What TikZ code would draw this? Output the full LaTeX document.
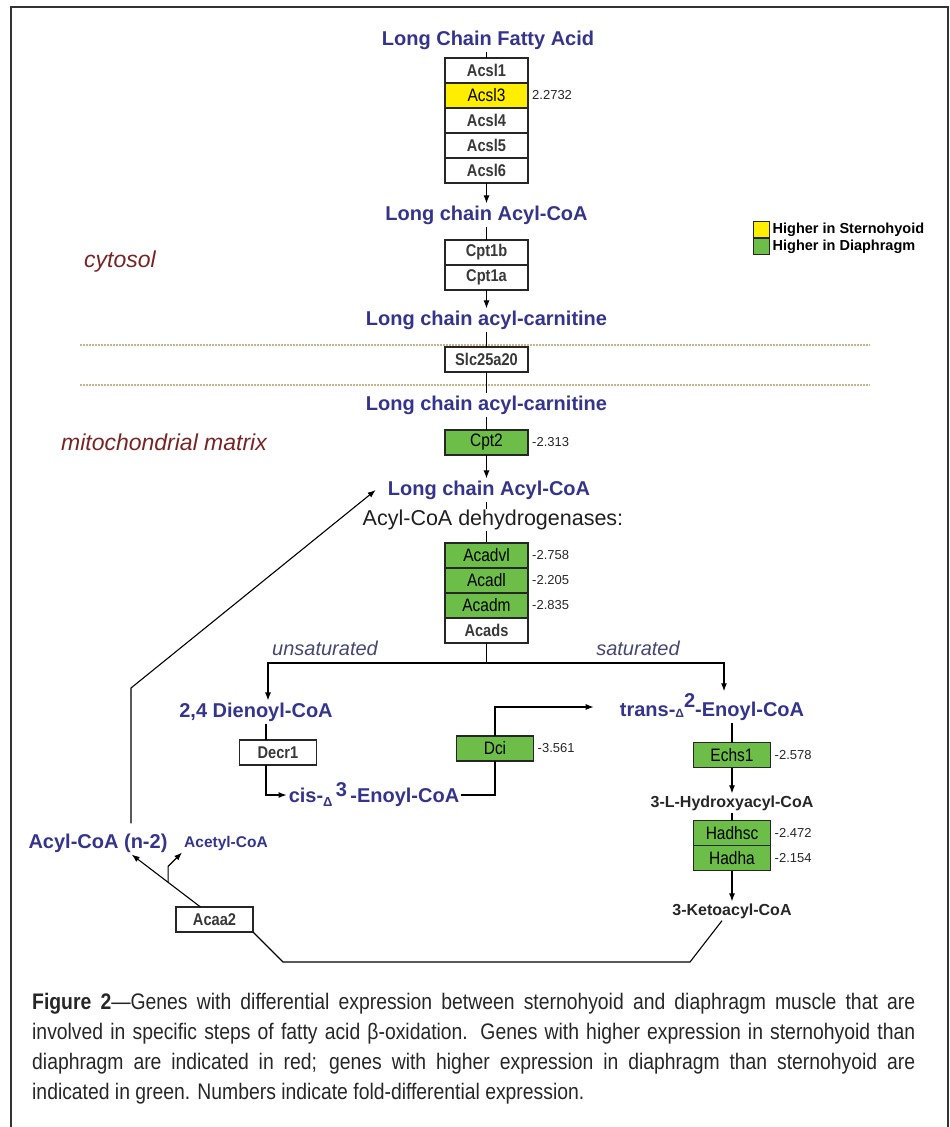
\documentclass[tikz,border=0pt]{standalone}
\usepackage{fontspec}
\setmainfont{Liberation Sans}
\newfontfamily\narrowsf[FakeStretch=0.86]{Liberation Sans}
\usetikzlibrary{arrows.meta, positioning, backgrounds}
\definecolor{metblue}{RGB}{52,52,140}
\definecolor{upyellow}{RGB}{255,238,0}
\definecolor{downgreen}{RGB}{108,190,72}
\definecolor{regionred}{RGB}{120,36,36}
\definecolor{splitgray}{RGB}{70,70,112}
\definecolor{membranetan}{RGB}{196,180,140}
\newcommand{\fsz}[1]{\fontsize{#1}{#1}\selectfont}
\tikzset{
  gene/.style={rectangle, draw=black!85, line width=1.1pt, fill=white,
               minimum width=83pt, minimum height=25pt, inner sep=0pt,
               outer sep=0pt, font=\narrowsf\bfseries\fsz{17}, text=black!78},
  upgene/.style={gene, fill=upyellow, font=\narrowsf\fsz{18}, text=black},
  downgene/.style={gene, fill=downgreen, font=\narrowsf\fsz{18}, text=black},
  metab/.style={font=\bfseries\fsz{20}, text=metblue, inner sep=2pt},
  inter/.style={font=\bfseries\fsz{16}, text=black!85, inner sep=2pt},
  fold/.style={font=\fsz{13}, inner sep=0pt, text=black!85},
  splitlbl/.style={font=\itshape\fsz{20}, text=splitgray},
  region/.style={font=\itshape\fsz{23}, text=regionred},
  flow/.style={-{Latex[length=8pt,width=6pt]}, line width=1.1pt},
  link/.style={line width=1.1pt},
  membrane/.style={draw=membranetan, line width=1.2pt, dash pattern=on 1.5pt off 1.5pt},
  legsq/.style={rectangle, draw=black!85, line width=1pt, minimum size=16pt, inner sep=0pt},
  legtxt/.style={font=\bfseries\fsz{14.5}, inner sep=0pt},
}

\begin{document}
\begin{tikzpicture}[x=1pt, y=-1pt]
  \useasboundingbox (0,0) rectangle (950,1127);
  % frame
  \draw[black!80, line width=2pt] (11,1127) -- (11,7) -- (948,7) -- (948,1127);

  % compartments
  \node[region] (cytosol) at (120,262) {cytosol};
  \node[region] (mito) at (164,442) {mitochondrial matrix};
  \draw[membrane] (80,345) -- (870,345);
  \draw[membrane] (80,385) -- (870,385);

  % legend
  \node[legsq, fill=upyellow] (legup) at (761,229.5) {};
  \node[legsq, fill=downgreen, below=0pt of legup] (legdown) {};
  \node[legtxt, right=3pt of legup] {Higher in Sternohyoid};
  \node[legtxt, right=3pt of legdown] {Higher in Diaphragm};

  % activation
  \node[metab] (lcfa) at (488,40) {Long Chain Fatty Acid};
  \node[gene] (acsl1) at (486.5,70.5) {Acsl1};
  \node[upgene, below=0pt of acsl1] (acsl3) {Acsl3};
  \node[gene, below=0pt of acsl3] (acsl4) {Acsl4};
  \node[gene, below=0pt of acsl4] (acsl5) {Acsl5};
  \node[gene, below=0pt of acsl5] (acsl6) {Acsl6};
  \node[fold, right=4pt of acsl3] {2.2732};
  \node[metab] (lcacoa1) at (486.5,215) {Long chain Acyl-CoA};
  \draw[link] (lcfa.south -| acsl1.north) -- (acsl1.north);
  \draw[flow] (acsl6) -- (lcacoa1);

  % carnitine shuttle
  \node[gene] (cpt1b) at (486.5,252.5) {Cpt1b};
  \node[gene, below=0pt of cpt1b] (cpt1a) {Cpt1a};
  \node[metab] (lccar1) at (486.5,320) {Long chain acyl-carnitine};
  \node[gene] (slc) at (486.5,359.5) {Slc25a20};
  \node[metab] (lccar2) at (486.5,405) {Long chain acyl-carnitine};
  \node[downgene] (cpt2) at (486.5,442.5) {Cpt2};
  \node[fold, right=4pt of cpt2] {-2.313};
  \node[metab] (lcacoa2) at (489,490) {Long chain Acyl-CoA};
  \draw[link] (lcacoa1) -- (cpt1b);
  \draw[flow] (cpt1a) -- (lccar1);
  \draw[link] (lccar1) -- (slc);
  \draw[link] (slc) -- (lccar2);
  \draw[link] (lccar2) -- (cpt2);
  \draw[flow] (cpt2.south) -- (cpt2.south |- lcacoa2.north);

  % dehydrogenases
  \node[font=\fsz{21.5}, text=black!88, fill=white, inner sep=1pt] (acyldh) at (493,520) {Acyl-CoA dehydrogenases:};
  \node[downgene] (acadvl) at (486.5,555.5) {Acadvl};
  \node[downgene, below=0pt of acadvl] (acadl) {Acadl};
  \node[downgene, below=0pt of acadl] (acadm) {Acadm};
  \node[gene, below=0pt of acadm] (acads) {Acads};
  \node[fold, right=4pt of acadvl] {-2.758};
  \node[fold, right=4pt of acadl] {-2.205};
  \node[fold, right=4pt of acadm] {-2.835};
  \begin{scope}[on background layer]
    \draw[link] (lcacoa2.south -| acadvl.north) -- (acadvl.north);
  \end{scope}

  % unsaturated / saturated
  \draw[link] (acads.south) -- ++(0,20) coordinate (split);
  \node[splitlbl] (unsat) at (325,648) {unsaturated};
  \node[splitlbl] (sat) at (638,648) {saturated};
  \node[metab] (dienoyl) at (256,712) {2,4 Dienoyl-CoA};
  \node[gene, minimum width=77pt] (decr1) at (278,752.5) {Decr1};
  \node[metab] (cis) at (374,795) {cis-\raisebox{-4pt}{\fsz{13}Δ}\,\raisebox{6pt}{3}\,-Enoyl-CoA};
  \node[downgene, minimum width=77pt] (dci) at (495,748.5) {Dci};
  \node[fold, right=4pt of dci] {-3.561};
  \node[metab] (trans) at (712,707) {trans-\raisebox{-1pt}{\fsz{12}Δ}\raisebox{9pt}{2}-Enoyl-CoA};
  \draw[flow] (split) -| ([xshift=12pt]dienoyl.north);
  \draw[flow] (split) -| ([xshift=12pt]trans.north);
  \draw[link] ([xshift=-12pt]decr1.north |- dienoyl.south) -- ([xshift=-12pt]decr1.north);
  \draw[flow] ([xshift=-12pt]decr1.south) |- (cis.west);
  \draw[link] (cis.east) -| (dci.south);
  \draw[flow] (dci.north) |- ([xshift=-24pt]trans.west);

  % hydration and oxidation
  \node[downgene, minimum width=77pt] (echs1) at (732,755) {Echs1};
  \node[fold, right=4pt of echs1] {-2.578};
  \node[inter] (hydroxy) at (732,803) {3-L-Hydroxyacyl-CoA};
  \node[downgene, minimum width=77pt] (hadhsc) at (732,833) {Hadhsc};
  \node[downgene, minimum width=77pt, below=0pt of hadhsc] (hadha) {Hadha};
  \node[fold, right=4pt of hadhsc] {-2.472};
  \node[fold, right=4pt of hadha] {-2.154};
  \node[inter] (keto) at (732,911) {3-Ketoacyl-CoA};
  \draw[link] (trans.south -| echs1.north) -- (echs1.north);
  \draw[flow] (echs1) -- (hydroxy);
  \draw[link] (hydroxy) -- (hadhsc);
  \draw[flow] (hadha) -- (keto);

  % thiolysis
  \node[gene, minimum width=77pt] (acaa2) at (214.5,919.5) {Acaa2};
  \node[metab] (acyln2) at (98,843) {Acyl-CoA (n-2)};
  \node[metab, font=\bfseries\fsz{15.5}] (acetyl) at (226,843) {Acetyl-CoA};
  \coordinate (loopR) at (690,962);
  \coordinate (loopL) at (283,962);
  \coordinate (bend) at (131,688);
  \draw[link] ([xshift=-10pt]keto.south) -- (loopR) -- (loopL) -- (acaa2.south east);
  \draw[flow] ([xshift=-14pt]acaa2.north) -- coordinate[pos=0.47] (branch) ([xshift=-38pt]acyln2.south east);
  \draw[flow] (branch) -- ++(0,-16) -- (acetyl.south west);
  \draw[flow] ([yshift=8pt]bend |- acyln2.north) -- (bend) -- ([xshift=-10pt]lcacoa2.west);

  % caption
  \node[anchor=north west, inner sep=0pt, align=left, text=black!85,
        font=\narrowsf\fontsize{22.5}{30}\selectfont] (caption) at (32,993)
    {\makebox[883pt][s]{\textbf{Figure 2}—Genes with differential expression between sternohyoid and diaphragm muscle that are}\\
     \makebox[883pt][s]{involved in specific steps of fatty acid β-oxidation. Genes with higher expression in sternohyoid than}\\
     \makebox[883pt][s]{diaphragm are indicated in red; genes with higher expression in diaphragm than sternohyoid are}\\
     indicated in green. Numbers indicate fold-differential expression.};
\end{tikzpicture}
\end{document}
